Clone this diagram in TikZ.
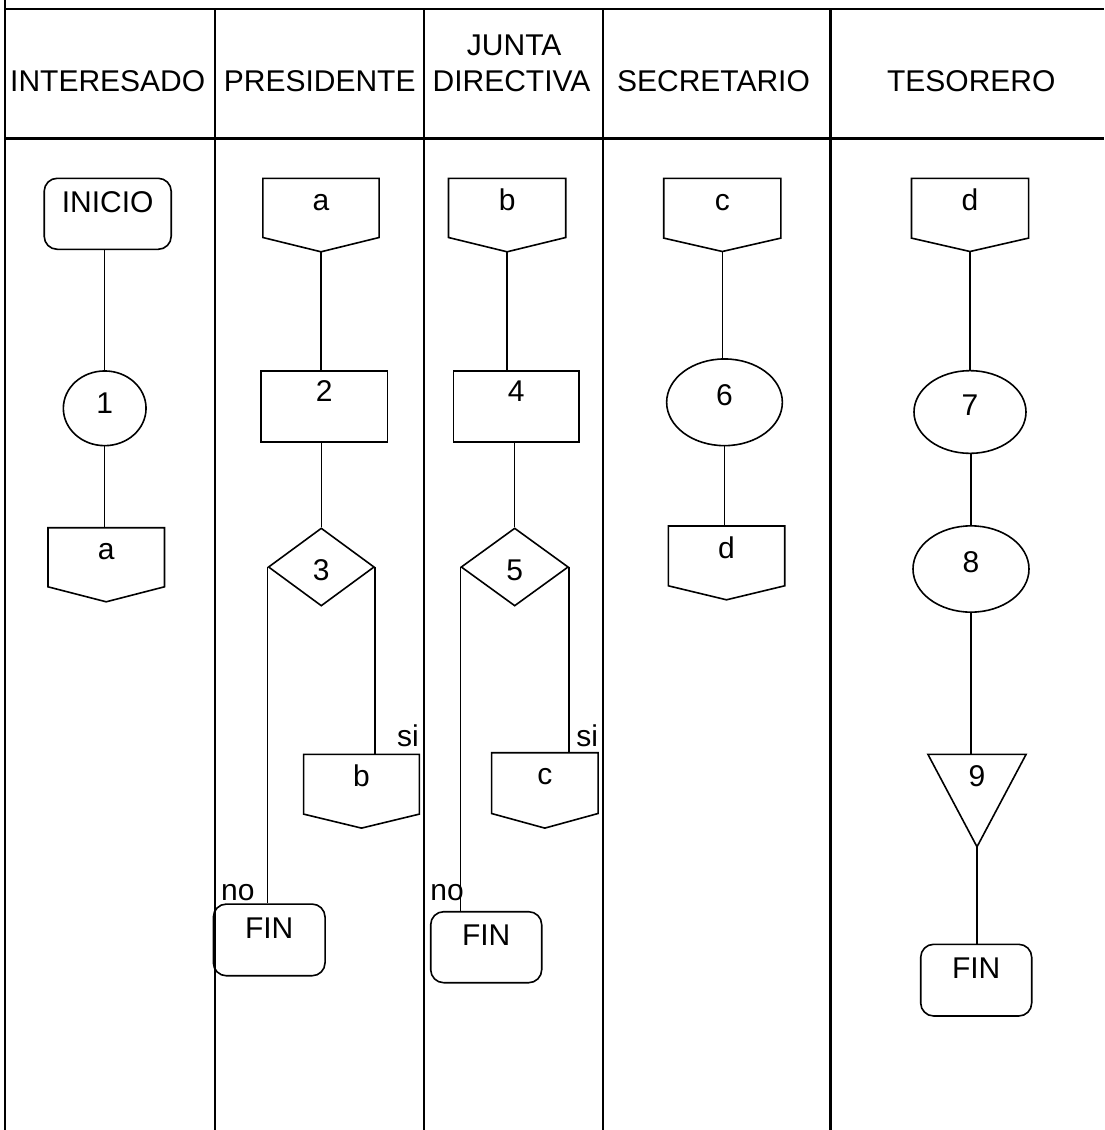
\documentclass[tikz,border=0pt]{standalone}
\usepackage{fontspec}
\setmainfont{Liberation Sans}
\usetikzlibrary{shapes.geometric,calc}
\tikzset{
  frame/.style={line width=1.1pt},
  shp/.style={draw, line width=0.8pt},
  conn/.style={line width=0.75pt},
  txt/.style={inner sep=0pt, font=\fontsize{15}{18}\selectfont, anchor=base},
  term/.style={shp, rectangle, rounded corners=6.5pt, inner sep=0pt},
  procbox/.style={shp, rectangle, inner sep=0pt},
  oval/.style={shp, ellipse, inner sep=0pt},
  decis/.style={shp, diamond, inner sep=0pt},
  offbody/.style={rectangle, inner sep=0pt, anchor=north},
}
\newcommand\OffPage[7]{% name, x, ytop, width, height, tip, text
  \node[offbody, minimum width=#4, minimum height=#5] (#1) at (#2,#3) {};
  \coordinate (#1tip) at ([yshift=-#6]#1.south);
  \draw[shp] (#1.north west) -- (#1.north east) -- (#1.south east) -- (#1tip) -- (#1.south west) -- cycle;
  \node[txt] (#1T) at ([yshift=-16pt]#1.north) {#7};
}
\begin{document}
\begin{tikzpicture}[x=0.5pt, y=-0.5pt]
\useasboundingbox (0,0) rectangle (1104,1130);
% frame
\draw[frame] (4.6,0) -- (4.6,1130);
\draw[frame] (4.6,9.3) -- (1104,9.3);
\draw[frame] (4.6,138.5) -- (1104,138.5);
\foreach \cx in {215,424.3,602.8,830.5} \draw[frame] (\cx,9.3) -- (\cx,1130);
% headers
\node[txt] (h1) at (107.7,91.7) {INTERESADO};
\node[txt] (h2) at (319.7,91.7) {PRESIDENTE};
\node[txt] (h3a) at (514.2,55.5) {JUNTA};
\node[txt] (h3b) at (511.5,91.7) {DIRECTIVA};
\node[txt] (h4) at (713.5,91.7) {SECRETARIO};
\node[txt] (h5) at (971.3,91.7) {TESORERO};
% column 1
\node[term, minimum width=63.5pt, minimum height=35.5pt] (ini) at (107.7,213.8) {};
\node[txt] (iniT) at ([yshift=-17.5pt]ini.north) {INICIO};
\node[oval, minimum width=41.35pt, minimum height=37.35pt] (c1) at (104.7,408.3) {};
\node[txt] (c1T) at ([yshift=-2.5pt]c1.center) {1};
\OffPage{a1}{106.2}{527.7}{57.85pt}{29.15pt}{7.5pt}{a}
% column 2
\OffPage{a2}{321}{178.3}{57.7pt}{29.2pt}{7.15pt}{a}
\node[procbox, minimum width=63.15pt, minimum height=35.5pt] (r2) at (324.2,406.2) {};
\node[txt] (r2T) at ([yshift=-16pt]r2.north) {2};
\node[decis, minimum width=53pt, minimum height=39pt] (d3) at (321.3,567) {};
\node[txt] (d3T) at ([yshift=-6.5pt]d3.center) {3};
\OffPage{b1}{361.5}{754.3}{57.5pt}{29.5pt}{7pt}{b}
\node[term, minimum width=55.85pt, minimum height=35.85pt] (fin1) at (269.2,939.9) {};
\node[txt] (fin1T) at ([yshift=-17.5pt]fin1.north) {FIN};
\node[txt, anchor=base west] (si1) at (396.7,746) {si};
\node[txt, anchor=base west] (no1) at (220.7,900) {no};
% column 3
\OffPage{b2}{507.1}{178.3}{58.2pt}{29.2pt}{7.15pt}{b}
\node[procbox, minimum width=62.85pt, minimum height=35.5pt] (r4) at (516.2,406.2) {};
\node[txt] (r4T) at ([yshift=-16pt]r4.north) {4};
\node[decis, minimum width=53.65pt, minimum height=39pt] (d5) at (514.7,567) {};
\node[txt] (d5T) at ([yshift=-6.5pt]d5.center) {5};
\OffPage{c2}{544.8}{752.7}{52.85pt}{30pt}{7.3pt}{c}
\node[term, minimum width=55.5pt, minimum height=35.5pt] (fin2) at (486.2,947.2) {};
\node[txt] (fin2T) at ([yshift=-17.5pt]fin2.north) {FIN};
\node[txt, anchor=base west] (si2) at (576,746) {si};
\node[txt, anchor=base west] (no2) at (430,900) {no};
% column 4
\OffPage{c3}{722.3}{178.3}{58.15pt}{29.5pt}{6.7pt}{c}
\node[oval, minimum width=57.85pt, minimum height=43.35pt] (e6) at (724.5,402.3) {};
\node[txt] (e6T) at ([yshift=-1.5pt]e6.center) {6};
\OffPage{d4}{726.5}{526}{57.8pt}{29.5pt}{7pt}{d}
% column 5
\OffPage{d6}{970}{178.3}{58.15pt}{29.5pt}{6.7pt}{d}
\node[oval, minimum width=56pt, minimum height=41.35pt] (e7) at (970,412) {};
\node[txt] (e7T) at ([yshift=-1.5pt]e7.center) {7};
\node[oval, minimum width=58pt, minimum height=43.15pt] (e8) at (971,569) {};
\node[txt] (e8T) at ([yshift=-1.5pt]e8.center) {8};
\node[offbody, minimum width=48.7pt, minimum height=45.85pt] (t9) at (977,754.3) {};
\draw[shp] (t9.north west) -- (t9.north east) -- (t9.south) -- cycle;
\node[txt] (t9T) at ([yshift=-16pt]t9.north) {9};
\node[term, minimum width=55.5pt, minimum height=35.85pt] (fin3) at (976.2,980.15) {};
\node[txt] (fin3T) at ([yshift=-17.5pt]fin3.north) {FIN};
% connectors
\draw[conn] (ini.south -| c1.north) -- (c1.north);
\draw[conn] (c1.south) -- (c1.south |- a1.north);
\draw[conn] (a2tip) -- (a2tip |- r2.north);
\draw[conn] (d3.north |- r2.south) -- (d3.north);
\draw[conn] (d3.west) -- (d3.west |- fin1.north);
\draw[conn] (d3.east) -- (d3.east |- b1.north);
\draw[conn] (b2tip) -- (b2tip |- r4.north);
\draw[conn] (d5.north |- r4.south) -- (d5.north);
\draw[conn] (d5.west) -- (d5.west |- fin2.north);
\draw[conn] (d5.east) -- (d5.east |- c2.north);
\draw[conn] (c3tip) -- (c3tip |- e6.north);
\draw[conn] (e6.south) -- (e6.south |- d4.north);
\draw[conn] (d6tip) -- (e7.north);
\draw[conn] (e7.south -| e8.north) -- (e8.north);
\draw[conn] (e8.south) -- (e8.south |- t9.north);
\draw[conn] (t9.south) -- (t9.south |- fin3.north);
\end{tikzpicture}
\end{document}
